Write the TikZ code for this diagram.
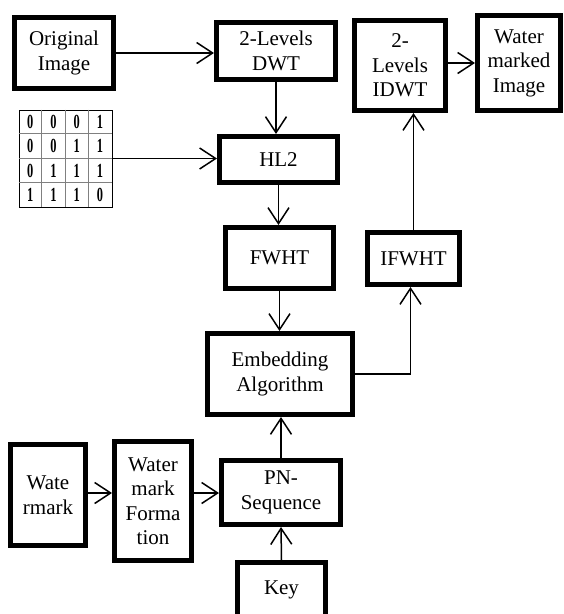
\documentclass[tikz,border=0pt]{standalone}
\usepackage{fontspec}
\setmainfont{Liberation Serif}
\newfontfamily\narrowfont[FakeStretch=0.62]{Liberation Serif}
\usetikzlibrary{arrows.meta,calc}
\begin{document}
\begin{tikzpicture}[x=1pt,y=-1pt,
    block/.style={draw,line width=5pt,align=center,inner sep=0pt,
      font=\fontsize{21}{24.5}\selectfont},
    flow/.style={line width=1.5pt,-{Straight Barb[length=16pt,width=21pt,line width=1.5pt]}}]
    \useasboundingbox (0,0) rectangle (564,614);
    \clip (0,0) rectangle (564,614);
    % blocks
    \node[block,minimum width=99pt,minimum height=71pt] (orig) at (64,53) {Original\\Image};
    \node[block,minimum width=119pt,minimum height=57pt] (dwt) at (276,51) {2-Levels\\DWT};
    \node[block,minimum width=118pt,minimum height=46pt] (hl) at (278.5,159.5) {HL2};
    \node[block,minimum width=108pt,minimum height=61pt] (fwht) at (279.5,258) {FWHT};
    \node[block,minimum width=145pt,minimum height=81pt] (embed) at (280,374) {Embedding\\Algorithm};
    \node[block,minimum width=119pt,minimum height=64pt] (pn) at (281,492.5) {PN-\\Sequence};
    \node[block,minimum width=88pt,minimum height=55pt] (key) at (281.5,590) {Key};
    \node[block,minimum width=75pt,minimum height=101pt] (wm) at (48,495) {Wate\\rmark};
    \node[block,minimum width=77pt,minimum height=119pt] (wmf) at (153,501) {Water\\mark\\Forma\\tion};
    \node[block,minimum width=92pt,minimum height=52pt] (ifwht) at (413.5,258.5) {IFWHT};
    \node[block,minimum width=91pt,minimum height=90pt] (idwt) at (400,65.5) {2-\\Levels\\IDWT};
    \node[block,minimum width=83pt,minimum height=95pt] (wmimg) at (519,63) {Water\\marked\\Image};
    % bit matrix
    \node[draw,line width=0.9pt,minimum width=93pt,minimum height=97pt,inner sep=0pt] (bits) at (65.5,158.5) {};
    \foreach \i in {1,2,3} {
      \draw[line width=0.9pt,gray] ($(bits.north west)+(23.25*\i,0)$) -- ++(0,97);
      \draw[line width=0.9pt,gray] ($(bits.north west)+(0,24.25*\i)$) -- ++(93,0);
    }
    \foreach \row [count=\r from 0] in {{0,0,0,1},{0,0,1,1},{0,1,1,1},{1,1,1,0}}
      \foreach \v [count=\c from 0] in \row
        \node[font=\narrowfont\bfseries\fontsize{20}{20}\selectfont,inner sep=0pt] (b\r\c)
          at ($(bits.north west)+(11.6+23.25*\c,12.5+24.25*\r)$) {\v};
    % connectors
    \draw[flow] (orig.east) -- (orig.east -| dwt.west);
    \draw[flow] (bits.east) -- (bits.east -| hl.west);
    \draw[flow] (dwt.south) -- (dwt.south |- hl.north);
    \draw[flow] (hl.south) -- (hl.south |- fwht.north);
    \draw[flow] (fwht.south) -- (fwht.south |- embed.north);
    \draw[flow] (embed.east) -| ($(ifwht.south)+(-3,0)$);
    \draw[flow] (ifwht.north) -- (ifwht.north |- idwt.south);
    \draw[flow] (idwt.east |- wmimg.west) -- (wmimg.west);
    \draw[flow] (wm.east |- 0,493) -- (wmf.west |- 0,493);
    \draw[flow] (wmf.east |- 0,493) -- (pn.west |- 0,493);
    \draw[flow] (key.north) -- (pn.south);
    \draw[flow] (pn.north) -- (pn.north |- embed.south);
\end{tikzpicture}
\end{document}
